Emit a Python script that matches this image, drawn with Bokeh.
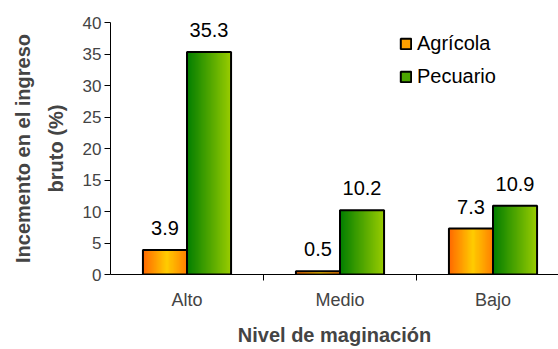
from bokeh.plotting import figure
from bokeh.models import Range1d, FixedTicker, Legend, LegendItem, ColumnDataSource
from bokeh.core.properties import value
from bokeh.embed import file_html
from bokeh.resources import INLINE

# Data
categories = ["Alto", "Medio", "Bajo"]
series_names = ["Agrícola", "Pecuario"]
agricola = [3.9, 0.5, 7.3]
pecuario = [35.3, 10.2, 10.9]
y_ticks = [0, 5, 10, 15, 20, 25, 30, 35, 40]

FONT = "Liberation Sans"

# Horizontal gradient stops (position, rgb) for each series
orange_stops = [(0.0, (255, 102, 0)), (0.55, (255, 204, 0)), (1.0, (255, 128, 0))]
green_stops = [(0.0, (0, 125, 0)), (1.0, (153, 204, 0))]


def grad_color(stops, t):
    for (t0, c0), (t1, c1) in zip(stops[:-1], stops[1:]):
        if t0 <= t <= t1:
            f = (t - t0) / (t1 - t0) if t1 > t0 else 0
            r, g, b = (int(round(a + (bb - a) * f)) for a, bb in zip(c0, c1))
            return "#%02x%02x%02x" % (r, g, b)
    return "#%02x%02x%02x" % stops[-1][1]


p = figure(width=558, height=349, output_backend="svg", toolbar_location=None,
           x_range=Range1d(0, 448 / 153), y_range=Range1d(0, 40),
           min_border_left=110, min_border_right=0, min_border_top=22,
           min_border_bottom=75)
p.outline_line_color = None
p.grid.visible = False
p.background_fill_color = "white"
p.border_fill_color = "white"

BAR_W = 0.288
N_STRIPS = 40


def draw_series(vals, offset, stops, mid_color):
    centers = [i + 0.5 + offset for i in range(len(vals))]
    bsrc = ColumnDataSource(dict(x=centers, top=vals,
                                 label=["%.1f" % v for v in vals]))
    # solid base under the gradient strips
    base = p.vbar(x="x", top="top", bottom=0, width=BAR_W, source=bsrc,
                  fill_color=mid_color, line_color=None)
    xs, tops, cols = [], [], []
    sw = BAR_W / N_STRIPS
    for c, v in zip(centers, vals):
        left = c - BAR_W / 2
        for k in range(N_STRIPS):
            xs.append(left + (k + 0.5) * sw)
            tops.append(v)
            cols.append(grad_color(stops, (k + 0.5) / N_STRIPS))
    src = ColumnDataSource(dict(x=xs, top=tops, color=cols))
    p.vbar(x="x", top="top", bottom=0, width=sw * 1.6, source=src,
           fill_color="color", line_color=None)
    outline = p.vbar(x="x", top="top", bottom=0, width=BAR_W, source=bsrc,
                     fill_alpha=0, line_color="black", line_width=2)
    p.text(x="x", y="top", text="label", source=bsrc, y_offset=-15,
           text_align="center", text_baseline="bottom",
           text_font=value(FONT), text_font_size="20px", text_color="black")
    return [base, outline]


r_agr = draw_series(agricola, -BAR_W / 2, orange_stops, "#ffa000")
r_pec = draw_series(pecuario, BAR_W / 2, green_stops, "#4ca600")

legend = Legend(items=[LegendItem(label=series_names[0], renderers=r_agr),
                       LegendItem(label=series_names[1], renderers=r_pec)],
                location=(289, 186), orientation="vertical")
legend.border_line_color = None
legend.background_fill_alpha = 0
legend.padding = 0
legend.margin = 0
legend.spacing = 10
legend.glyph_width = 13
legend.glyph_height = 13
legend.label_height = 20
legend.label_standoff = 5
legend.label_text_font = FONT
legend.label_text_font_size = "20px"
legend.label_text_color = "black"
p.add_layout(legend, "center")

# Y axis
p.yaxis.ticker = FixedTicker(ticks=y_ticks)
p.yaxis.axis_label = "Incemento en el ingreso\nbruto (%)"
p.yaxis.axis_label_text_font = FONT
p.yaxis.axis_label_text_font_style = "bold"
p.yaxis.axis_label_text_font_size = "20px"
p.yaxis.axis_label_text_line_height = 1.5
p.yaxis.axis_label_standoff = 13
p.yaxis.major_label_text_font = FONT
p.yaxis.major_label_text_font_size = "17px"
p.yaxis.major_label_standoff = 3
p.yaxis.major_tick_in = 0
p.yaxis.major_tick_out = 6
p.yaxis.minor_tick_line_color = None
p.yaxis.axis_line_color = "black"
p.yaxis.major_tick_line_color = "black"

# X axis: labels at category centres, tick marks between categories
p.xaxis.ticker = FixedTicker(ticks=[0.5, 1.5, 2.5], minor_ticks=[1, 2])
p.xaxis.major_label_overrides = {0.5: categories[0], 1.5: categories[1],
                                 2.5: categories[2]}
p.xaxis.major_tick_line_color = None
p.xaxis.minor_tick_in = 0
p.xaxis.minor_tick_out = 6
p.xaxis.minor_tick_line_color = "black"
p.xaxis.major_label_standoff = 9
p.xaxis.major_label_text_font = FONT
p.xaxis.major_label_text_font_size = "18px"
p.xaxis.axis_label = "Nivel de maginación"
p.xaxis.axis_label_text_font = FONT
p.xaxis.axis_label_text_font_style = "bold"
p.xaxis.axis_label_text_font_size = "20px"
p.xaxis.axis_label_standoff = 11

open("out.html", "w").write(file_html(p, INLINE))
